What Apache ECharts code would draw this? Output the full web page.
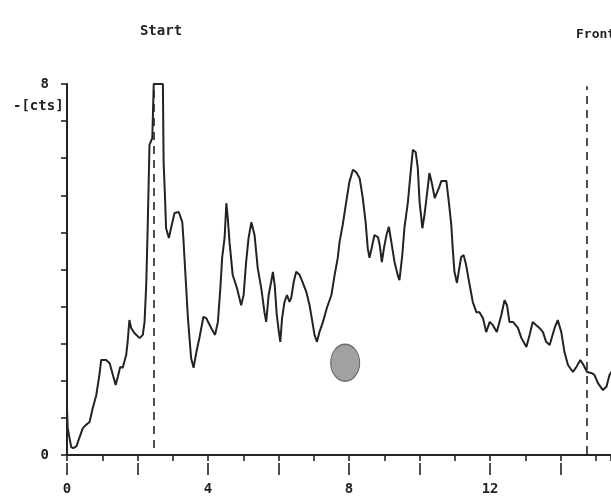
<!DOCTYPE html>
<html>
<head>
<meta charset="utf-8">
<title>Radio-TLC scan</title>
<script src="https://cdn.jsdelivr.net/npm/echarts@6/dist/echarts.min.js"></script>
<style>
  html, body { margin: 0; padding: 0; background: #fff; }
  #chart { width: 611px; height: 499px; }
</style>
</head>
<body>
<div id="chart"></div>
<script>
// scan position (x axis units) and counts
const position = [
  0.00, 0.02, 0.12, 0.18, 0.27, 0.35, 0.45, 0.54, 0.64, 0.73, 0.83, 0.92, 0.97, 1.11, 1.21, 1.30,
  1.38, 1.44, 1.51, 1.58, 1.68, 1.72, 1.77, 1.82, 1.91, 2.06, 2.15, 2.20, 2.25, 2.29, 2.34, 2.42,
  2.46, 2.72, 2.74, 2.77, 2.81, 2.89, 2.96, 3.05, 3.17, 3.27, 3.30, 3.36, 3.43, 3.52, 3.59, 3.67,
  3.76, 3.87, 3.95, 4.09, 4.20, 4.28, 4.35, 4.40, 4.47, 4.52, 4.56, 4.61, 4.70, 4.82, 4.94, 5.01,
  5.08, 5.15, 5.23, 5.26, 5.32, 5.41, 5.51, 5.60, 5.65, 5.72, 5.79, 5.84, 5.89, 5.95, 6.01, 6.05,
  6.10, 6.17, 6.24, 6.31, 6.36, 6.43, 6.50, 6.60, 6.69, 6.79, 6.88, 6.96, 7.02, 7.09, 7.16, 7.26,
  7.37, 7.50, 7.59, 7.68, 7.73, 7.82, 7.92, 8.01, 8.11, 8.20, 8.30, 8.39, 8.47, 8.53, 8.58, 8.66,
  8.72, 8.82, 8.87, 8.93, 8.99, 9.06, 9.13, 9.20, 9.29, 9.38, 9.43, 9.51, 9.57, 9.67, 9.74, 9.81,
  9.89, 9.95, 10.00, 10.08, 10.14, 10.24, 10.28, 10.36, 10.43, 10.47, 10.55, 10.62, 10.76, 10.83, 10.90, 10.94,
  10.99, 11.06, 11.11, 11.18, 11.25, 11.32, 11.42, 11.51, 11.61, 11.70, 11.80, 11.89, 11.99, 12.08, 12.19, 12.32,
  12.41, 12.48, 12.55, 12.65, 12.79, 12.89, 13.03, 13.12, 13.21, 13.31, 13.40, 13.50, 13.59, 13.69, 13.83, 13.92,
  14.02, 14.11, 14.21, 14.35, 14.45, 14.56, 14.65, 14.75, 14.87, 14.96, 15.06, 15.20, 15.30, 15.39, 15.48
];
const counts = [
  1.01, 0.58, 0.17, 0.15, 0.19, 0.37, 0.58, 0.65, 0.71, 1.01, 1.29, 1.73, 2.05, 2.05, 1.98, 1.73,
  1.51, 1.68, 1.90, 1.88, 2.16, 2.44, 2.91, 2.74, 2.63, 2.52, 2.59, 2.87, 3.73, 4.96, 6.69, 6.84,
  8.00, 8.00, 6.32, 5.76, 4.89, 4.68, 4.92, 5.22, 5.24, 5.02, 4.68, 3.88, 2.95, 2.09, 1.88, 2.22,
  2.54, 2.98, 2.95, 2.74, 2.59, 2.87, 3.60, 4.25, 4.68, 5.43, 5.11, 4.59, 3.88, 3.60, 3.23, 3.45,
  4.16, 4.68, 5.02, 5.02, 4.74, 4.03, 3.60, 3.08, 2.87, 3.45, 3.73, 3.95, 3.67, 3.02, 2.65, 2.44,
  2.95, 3.30, 3.45, 3.30, 3.39, 3.73, 3.95, 3.88, 3.71, 3.51, 3.23, 2.87, 2.59, 2.44, 2.65, 2.87,
  3.17, 3.45, 3.88, 4.25, 4.59, 4.96, 5.46, 5.89, 6.15, 6.10, 5.97, 5.54, 5.02, 4.46, 4.25, 4.53,
  4.74, 4.70, 4.53, 4.16, 4.46, 4.74, 4.92, 4.59, 4.16, 3.88, 3.77, 4.31, 4.89, 5.46, 6.04, 6.58,
  6.53, 6.19, 5.46, 4.89, 5.18, 5.82, 6.08, 5.82, 5.54, 5.50, 5.76, 5.91, 5.91, 5.46, 4.96, 4.46,
  3.95, 3.71, 3.95, 4.27, 4.31, 4.10, 3.67, 3.30, 3.08, 3.08, 2.95, 2.65, 2.87, 2.80, 2.65, 3.02,
  3.34, 3.23, 2.87, 2.87, 2.74, 2.52, 2.33, 2.59, 2.87, 2.80, 2.74, 2.65, 2.44, 2.37, 2.74, 2.91,
  2.65, 2.22, 1.94, 1.79, 1.90, 2.05, 1.94, 1.79, 1.77, 1.73, 1.55, 1.40, 1.47, 1.73, 1.83
];

// marker positions
const startPos = 2.46;
const frontPos = 14.75;
const spot = [7.89, 1.99];

const xMax = 15.43;
const yLabels = [0, 8];
const xLabelStep = 4;

const ink = '#232323';
const mono = '"DejaVu Sans Mono", "Liberation Mono", monospace';

const chart = echarts.init(document.getElementById('chart'));

// axis without line: only ticks below the baseline
const tickAxis = (interval, len, showLabels) => ({
  type: 'value', min: 0, max: xMax, interval,
  position: 'bottom', offset: 8,
  axisLine: { show: false },
  axisTick: { show: true, length: len, lineStyle: { color: ink, width: 1.6 } },
  axisLabel: showLabels ? {
    margin: 19,
    showMaxLabel: false,
    fontFamily: mono, fontWeight: 'bold', fontSize: 14, color: ink,
    formatter: v => (Math.abs(v % xLabelStep) < 1e-6 ? String(v) : '')
  } : { show: false },
  splitLine: { show: false }
});

const option = {
  backgroundColor: '#ffffff',
  animation: false,
  title: [
    { text: 'Start', left: 156, top: 19, textAlign: 'center',
      textStyle: { fontFamily: mono, fontWeight: 'bold', fontSize: 14, color: ink } },
    { text: "Front'", left: 571, top: 23,
      textStyle: { fontFamily: mono, fontWeight: 'bold', fontSize: 13, color: ink } },
    { text: '-[cts]', left: 8, top: 94,
      textStyle: { fontFamily: mono, fontWeight: 'bold', fontSize: 14, color: ink } }
  ],
  grid: { left: 67, top: 84, right: 0, bottom: 44 },
  xAxis: [
    {
      type: 'value', min: 0, max: xMax,
      axisLine: { show: true, onZero: false, lineStyle: { color: ink, width: 2 } },
      axisTick: { show: false },
      axisLabel: { show: false },
      splitLine: { show: false }
    },
    tickAxis(1, 6, false),
    tickAxis(2, 12, true)
  ],
  yAxis: {
    type: 'value', min: 0, max: 8, interval: 0.8,
    axisLine: { show: true, lineStyle: { color: ink, width: 2 } },
    axisTick: { show: true, length: 6, lineStyle: { color: ink, width: 1.6 } },
    axisLabel: {
      margin: 18,
      fontFamily: mono, fontWeight: 'bold', fontSize: 14, color: ink,
      formatter: v => {
        const hit = yLabels.find(l => Math.abs(v - l) < 1e-6);
        return hit === undefined ? '' : String(hit);
      }
    },
    splitLine: { show: false }
  },
  series: [
    {
      type: 'line',
      xAxisIndex: 0,
      data: position.map((x, i) => [x, counts[i]]),
      showSymbol: false,
      clip: false,
      lineStyle: { color: ink, width: 2 },
      markLine: {
        silent: true,
        symbol: ['none', 'none'],
        label: { show: false },
        lineStyle: { color: ink, width: 1.6, type: [8, 6] },
        data: [
          [{ coord: [startPos, 0.15] }, { coord: [startPos, 8] }],
          [{ coord: [frontPos, 0.02] }, { coord: [frontPos, 7.95] }]
        ]
      }
    },
    {
      type: 'scatter',
      xAxisIndex: 0,
      data: [spot],
      symbol: 'circle',
      symbolSize: [29, 37],
      itemStyle: { color: '#8a8a8a', borderColor: '#505050', borderWidth: 1.2 }
    }
  ]
};

chart.setOption(option);
</script>
</body>
</html>
